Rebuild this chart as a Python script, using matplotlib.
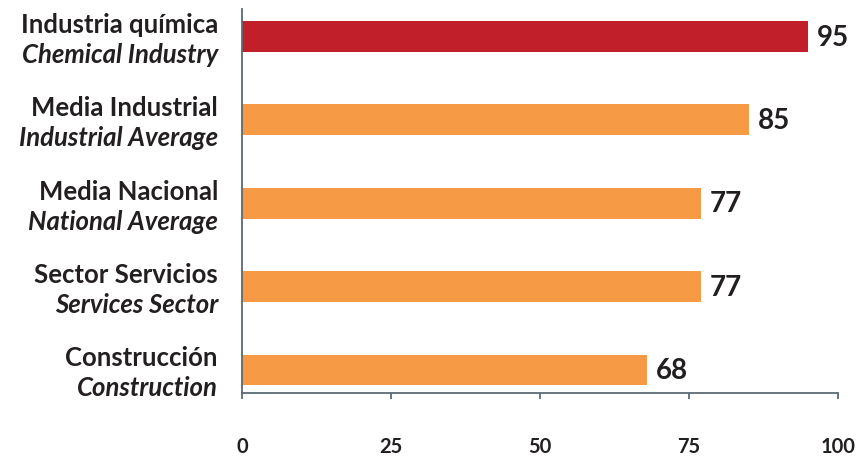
import matplotlib
matplotlib.use("Agg")
import matplotlib.pyplot as plt

categories_es = ["Industria química", "Media Industrial", "Media Nacional",
                 "Sector Servicios", "Construcción"]
categories_en = ["Chemical Industry", "Industrial Average", "National Average",
                 "Services Sector", "Construction"]
values = [95, 85, 77, 77, 68]
colors = ["#C1202A", "#F79A45", "#F79A45", "#F79A45", "#F79A45"]
xticks = [0, 25, 50, 75, 100]

plt.rcParams['font.family'] = ['Lato', 'DejaVu Sans']
text_color = "#231F20"
axis_color = "#5B6A72"

fig = plt.figure(figsize=(8.6, 4.6), dpi=100)
ax = fig.add_axes([242/860, 1-394/460, (838-242)/860, (394-10)/460])

pos = list(range(len(values)))
ax.barh(pos, values, height=0.37, color=colors, zorder=2)
ax.set_xlim(0, 100)
ax.set_ylim(4.276, -0.33)

for s in ["top", "right"]:
    ax.spines[s].set_visible(False)
for s in ["left", "bottom"]:
    ax.spines[s].set_color(axis_color)
    ax.spines[s].set_linewidth(1.3)

ax.set_yticks([])
ax.set_xticks(xticks)
ax.set_xticklabels([str(t) for t in xticks], fontsize=14.5, fontweight='bold',
                   color=text_color)
ax.tick_params(axis='x', direction='out', length=4, width=1.3,
               color=axis_color, pad=27)

for i, (es, en, v) in enumerate(zip(categories_es, categories_en, values)):
    ax.annotate(es, xy=(0, i), xycoords=('axes fraction', 'data'),
                xytext=(-24, 4.5), textcoords='offset pixels',
                ha='right', va='baseline', fontsize=18.5, fontweight='bold',
                color=text_color)
    ax.annotate(en, xy=(0, i), xycoords=('axes fraction', 'data'),
                xytext=(-24, -25.5), textcoords='offset pixels',
                ha='right', va='baseline', fontsize=18.5, fontweight='bold',
                fontstyle='italic', color=text_color)
    ax.annotate(str(v), xy=(v, i), xycoords='data',
                xytext=(9, 0), textcoords='offset pixels',
                ha='left', va='center', fontsize=20, fontweight='bold',
                color=text_color)

fig.savefig("out.png", dpi=100)
